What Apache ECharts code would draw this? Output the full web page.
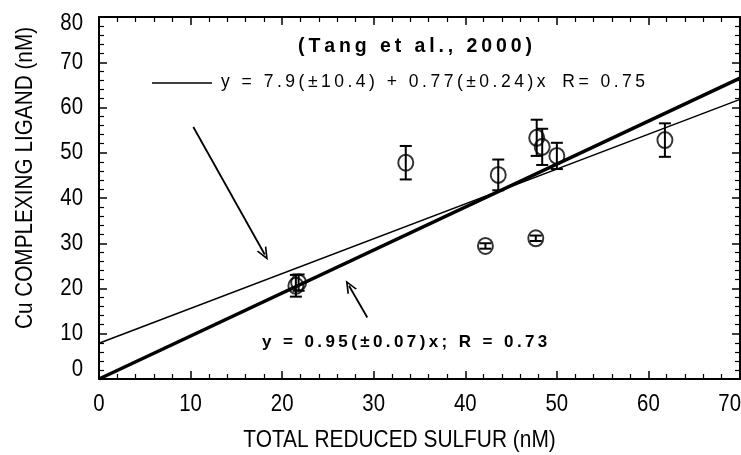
<!DOCTYPE html>
<html>
<head>
<meta charset="utf-8">
<script src="https://cdn.jsdelivr.net/npm/echarts@6/dist/echarts.min.js"></script>
<style>
  html, body { margin: 0; padding: 0; background: #fff; }
  #chart { width: 741px; height: 455px; }
</style>
</head>
<body>
<div id="chart"></div>
<script>
// Measured samples: total reduced sulfur vs. Cu complexing ligand (nM)
const sulfur    = [21.5, 21.8, 33.5, 43.6, 47.8, 48.4, 50.0, 61.8, 42.2, 47.7];
const ligand    = [20.6, 21.3, 47.8, 45.1, 53.3, 51.3, 49.3, 52.8, 29.4, 31.1];
const ligandErr = [2.4, 1.8, 3.7, 3.4, 4.0, 4.0, 2.9, 3.7, 0.6, 0.6];

// Regression fits: [intercept, slope]
const tangFit   = [7.9, 0.77];   // Tang et al., 2000
const originFit = [0, 0.95];     // forced through the origin

// Axis extents and tick labels
const xTicks = [0, 10, 20, 30, 40, 50, 60, 70];
const yTicks = [0, 10, 20, 30, 40, 50, 60, 70, 80];
const xTitle = 'TOTAL REDUCED SULFUR (nM)';
const yTitle = 'Cu COMPLEXING LIGAND (nM)';

const SANS = '"Liberation Sans", Arial, Helvetica, sans-serif';
const AXIS_FONT = '24px ' + SANS;

// Thin spaces between characters give the tracked lettering of the annotations
function spaced(s) { return s.split('').join('\u2009'); }

const xMin = xTicks[0], xMax = xTicks[xTicks.length - 1];
const yMin = yTicks[0], yMax = yTicks[yTicks.length - 1];
const fitLine = (c) => [xMin, xMax].map(x => [x, c[0] + c[1] * x]);

const chart = echarts.init(document.getElementById('chart'), null, { renderer: 'canvas' });

const frame = {
  axisLine: { show: true, onZero: false, lineStyle: { color: '#000', width: 2 } },
  axisTick: { show: true, inside: true, length: 8, lineStyle: { color: '#000', width: 1.5 } },
  minorTick: { show: true, splitNumber: 5, length: 5, lineStyle: { color: '#000', width: 1.2 } },
  axisLabel: { show: false },
  splitLine: { show: false }
};

const option = {
  animation: false,
  backgroundColor: '#fff',
  grid: { left: 99, right: 1, top: 17, bottom: 76, containLabel: false },
  xAxis: [
    Object.assign({ type: 'value', min: xMin, max: xMax, interval: 10, position: 'bottom' }, frame),
    Object.assign({ type: 'value', min: xMin, max: xMax, interval: 10, position: 'top' }, frame)
  ],
  yAxis: [
    Object.assign({ type: 'value', min: yMin, max: yMax, interval: 10, position: 'left' }, frame),
    Object.assign({ type: 'value', min: yMin, max: yMax, interval: 10, position: 'right' }, frame)
  ],
  series: [
    {
      name: 'Tang fit', type: 'line', data: fitLine(tangFit), showSymbol: false,
      lineStyle: { color: '#000', width: 1.5 }, z: 2, silent: true
    },
    {
      name: 'origin fit', type: 'line', data: fitLine(originFit), showSymbol: false,
      lineStyle: { color: '#000', width: 3.5 }, z: 2, silent: true,
      markLine: {
        silent: true, animation: false,
        symbol: ['none', 'path://M5,0 L10,11 L8.4,11 L5,3.6 L1.6,11 L0,11 Z'],
        symbolSize: [11, 13],
        label: { show: false },
        lineStyle: { color: '#000', width: 1.8, type: 'solid' },
        data: [
          [{ coord: [10.3, 55.7] }, { coord: [18.1, 27.5] }],
          [{ coord: [29.3, 13.6] }, { coord: [27.3, 20.6] }]
        ]
      }
    },
    {
      name: 'error', type: 'custom', z: 3,
      data: sulfur.map((x, i) => [x, ligand[i] - ligandErr[i], ligand[i] + ligandErr[i]]),
      renderItem: (params, api) => {
        const lo = api.coord([api.value(0), api.value(1)]);
        const hi = api.coord([api.value(0), api.value(2)]);
        const w = 6;
        const style = { stroke: '#000', lineWidth: 2 };
        return {
          type: 'group',
          children: [
            { type: 'line', shape: { x1: lo[0], y1: lo[1], x2: hi[0], y2: hi[1] }, style },
            { type: 'line', shape: { x1: lo[0] - w, y1: lo[1], x2: lo[0] + w, y2: lo[1] }, style },
            { type: 'line', shape: { x1: hi[0] - w, y1: hi[1], x2: hi[0] + w, y2: hi[1] }, style }
          ]
        };
      }
    },
    {
      name: 'samples', type: 'scatter', z: 4,
      data: sulfur.map((x, i) => [x, ligand[i]]),
      symbol: 'circle', symbolSize: [15, 16],
      itemStyle: { color: 'rgba(0,0,0,0)', borderColor: '#000', borderWidth: 2 }
    }
  ]
};

chart.setOption(option);

// Axis tick labels and titles, placed through the axis scales and drawn condensed
function axisText(text, x, y, align, squeeze, rotation) {
  return {
    type: 'text', x: x, y: y, rotation: rotation || 0, scaleX: squeeze, z: 10, silent: true,
    style: { text: text, font: AXIS_FONT, fill: '#000',
             align: align, verticalAlign: 'middle', textAlign: align, textVerticalAlign: 'middle' }
  };
}

const px = v => chart.convertToPixel({ xAxisIndex: 0 }, v);
const py = v => chart.convertToPixel({ yAxisIndex: 0 }, v);
const xAxisY = py(yMin), yAxisX = px(xMin);

const labels = [];
xTicks.forEach(v => {
  const last = v === xMax;
  labels.push(axisText(String(v), last ? px(v) + 1 : px(v), xAxisY + 25, last ? 'right' : 'center', 0.85));
});
yTicks.forEach(v => {
  // end labels are nudged inside the frame so they clear the corners
  const nudge = v === yMin ? -10 : (v === yMax ? 6 : 0);
  labels.push(axisText(String(v), yAxisX - 16, py(v) + nudge, 'right', 0.85));
});
labels.push(axisText(xTitle, (px(xMin) + px(xMax)) / 2 - 20, xAxisY + 61, 'center', 0.87));
labels.push(axisText(yTitle, 25, (py(yMin) + py(yMax)) / 2 - 20, 'center', 0.865, Math.PI / 2));

const notes = [
  {
    type: 'text', left: 298, top: 37, z: 10,
    style: { text: spaced('(Tang et al., 2000)'), font: 'bold 19.5px ' + SANS, fill: '#000' }
  },
  {
    type: 'line', z: 10, shape: { x1: 152, y1: 83, x2: 212, y2: 83 },
    style: { stroke: '#000', lineWidth: 1.5 }
  },
  {
    type: 'text', left: 221, top: 73, z: 10,
    style: { text: spaced('y = 7.9(±10.4) + 0.77(±0.24)x') + '\u2009\u2009  ' + spaced('R= 0.75'),
             font: '17.5px ' + SANS, fill: '#000' }
  },
  {
    type: 'text', left: 262, top: 334, z: 10,
    style: { text: spaced('y = 0.95(±0.07)x; R = 0.73'), font: 'bold 17px ' + SANS, fill: '#000' }
  }
];

chart.setOption({ graphic: labels.concat(notes) });
</script>
</body>
</html>
